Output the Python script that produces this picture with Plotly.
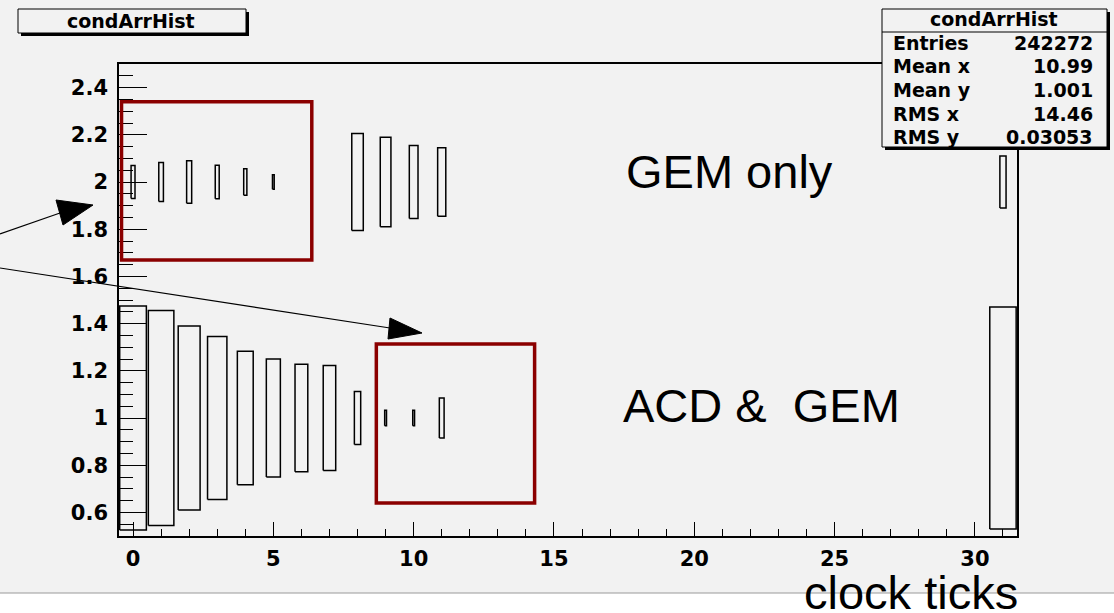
import plotly.graph_objects as go

# ---------------- data ----------------
x_range = [-0.5, 31.5]
y_range = [0.5, 2.5]

# row at y = 1 ("ACD & GEM")
lower_bins = [0, 1, 2, 3, 4, 5, 6, 7, 8, 9, 10, 11, 31]
lower_size = [0.95, 0.91, 0.78, 0.69, 0.565, 0.50, 0.455, 0.445, 0.225, 0.065, 0.065, 0.17, 0.94]
# row at y = 2 ("GEM only")
upper_bins = [0, 1, 2, 3, 4, 5, 8, 9, 10, 11, 31]
upper_size = [0.14, 0.165, 0.18, 0.141, 0.113, 0.062, 0.41, 0.38, 0.31, 0.29, 0.22]
row_y = [1.0, 2.0]

x_tickvals = [0, 5, 10, 15, 20, 25, 30]
y_tickvals = [0.6, 0.8, 1.0, 1.2, 1.4, 1.6, 1.8, 2.0, 2.2, 2.4]
y_ticktext = ["0.6", "0.8", "1", "1.2", "1.4", "1.6", "1.8", "2", "2.2", "2.4"]

hist_name = "condArrHist"
stats_labels = ["Entries", "Mean x", "Mean y", "RMS x", "RMS y"]
stats_values = ["242272", "10.99", "1.001", "14.46", "0.03053"]

# ---------------- layout geometry ----------------
W, H = 1114, 613
L, R, T, B = 119, 97, 64, 77
PW, PH = W - L - R, H - T - B
BG = "#f2f2f2"
DARKRED = "#8b0000"


def fx(px):
    return (px - L) / PW


def fy(py):
    return (H - B - py) / PH


def box_path(bins, sizes, yc):
    xs, ys = [], []
    for b, s in zip(bins, sizes):
        h = s / 2.0
        xs += [b - h, b + h, b + h, b - h, b - h, None]
        ys += [yc - h, yc - h, yc + h, yc + h, yc - h, None]
    return xs, ys


fig = go.Figure()
for bins, sizes, yc in [(lower_bins, lower_size, row_y[0]), (upper_bins, upper_size, row_y[1])]:
    xs, ys = box_path(bins, sizes, yc)
    fig.add_trace(go.Scatter(x=xs, y=ys, mode="lines",
                             line=dict(color="black", width=1.5),
                             hoverinfo="skip", showlegend=False))

tickfont = dict(family="DejaVu Sans", size=21, color="black", weight="bold")

fig.update_layout(
    width=W, height=H,
    margin=dict(l=L, r=R, t=T, b=B, pad=0),
    paper_bgcolor=BG, plot_bgcolor=BG,
    showlegend=False,
    xaxis=dict(range=x_range, showgrid=False, zeroline=False,
               showline=True, mirror=True, linecolor="black", linewidth=1.5,
               ticks="inside", ticklen=14, tickwidth=1, tickcolor="black",
               tickvals=x_tickvals, ticktext=[str(v) for v in x_tickvals],
               tickfont=tickfont, ticklabelstandoff=3,
               minor=dict(dtick=1, tick0=0, ticks="inside", ticklen=7,
                          tickwidth=1, tickcolor="black", showgrid=False)),
    yaxis=dict(range=y_range, showgrid=False, zeroline=False,
               showline=True, mirror=True, linecolor="black", linewidth=1.5,
               ticks="inside", ticklen=28, tickwidth=1, tickcolor="black",
               tickvals=y_tickvals, ticktext=y_ticktext,
               tickfont=tickfont, ticklabelstandoff=5,
               minor=dict(dtick=0.05, tick0=0, ticks="inside", ticklen=14,
                          tickwidth=1, tickcolor="black", showgrid=False)),
)

shapes = []
# white strip at the bottom + separator line
shapes.append(dict(type="rect", xref="paper", yref="paper", x0=fx(0), x1=fx(W),
                   y0=fy(W), y1=fy(593), fillcolor="white", line=dict(width=0), layer="below"))
shapes.append(dict(type="line", xref="paper", yref="paper", x0=fx(0), x1=fx(W),
                   y0=fy(593), y1=fy(593), line=dict(color="#9a9a9a", width=1)))

# red highlight frames
shapes.append(dict(type="rect", xref="x", yref="y", x0=-0.41, x1=6.37, y0=1.669, y1=2.34,
                   line=dict(color=DARKRED, width=3.5)))
shapes.append(dict(type="rect", xref="x", yref="y", x0=8.67, x1=14.31, y0=0.64, y1=1.314,
                   line=dict(color=DARKRED, width=3.5)))


# arrows (line + filled head)
def arrow(p0, base, tip, c1, c2):
    shapes.append(dict(type="line", xref="paper", yref="paper",
                       x0=fx(p0[0]), y0=fy(p0[1]), x1=fx(base[0]), y1=fy(base[1]),
                       line=dict(color="black", width=1.2)))
    path = "M {} {} L {} {} L {} {} Z".format(fx(c1[0]), fy(c1[1]), fx(tip[0]), fy(tip[1]),
                                             fx(c2[0]), fy(c2[1]))
    shapes.append(dict(type="path", xref="paper", yref="paper", path=path,
                       fillcolor="black", line=dict(color="black", width=1)))


arrow((0, 234), (60, 213), (93, 205), (56, 200), (63, 225))
arrow((0, 268), (390, 328), (422, 333), (390, 318), (388, 339))


# ROOT-style boxes with shadow
def root_box(x0, y0, x1, y1):
    shapes.append(dict(type="rect", xref="paper", yref="paper",
                       x0=fx(x0 + 3), x1=fx(x1 + 3), y0=fy(y1 + 3), y1=fy(y0 + 3),
                       fillcolor="black", line=dict(width=0)))
    shapes.append(dict(type="rect", xref="paper", yref="paper",
                       x0=fx(x0), x1=fx(x1), y0=fy(y1), y1=fy(y0),
                       fillcolor=BG, line=dict(color="black", width=1)))


root_box(18, 9, 246, 33)
root_box(882, 9, 1107, 147)
shapes.append(dict(type="line", xref="paper", yref="paper", x0=fx(882), x1=fx(1107),
                   y0=fy(32), y1=fy(32), line=dict(color="black", width=1)))

fig.update_layout(shapes=shapes)

ann = []
boxfont = dict(family="DejaVu Sans", size=19, color="black", weight="bold")
ann.append(dict(text=hist_name, x=fx(131), y=fy(21), xref="paper", yref="paper",
                showarrow=False, xanchor="center", yanchor="middle", font=boxfont))
ann.append(dict(text=hist_name, x=fx(994), y=fy(19), xref="paper", yref="paper",
                showarrow=False, xanchor="center", yanchor="middle", font=boxfont))
row_px = [43, 66, 90, 114, 137]
for lab, val, py in zip(stats_labels, stats_values, row_px):
    ann.append(dict(text=lab, x=fx(891), y=fy(py), xref="paper", yref="paper",
                    showarrow=False, xanchor="left", yanchor="middle", font=boxfont))
    ann.append(dict(text=val, x=fx(1095), y=fy(py), xref="paper", yref="paper",
                    showarrow=False, xanchor="right", yanchor="middle", font=boxfont))

bigfont = dict(family="Liberation Sans", size=47, color="black")
ann.append(dict(text="GEM only", x=fx(729), y=fy(172), xref="paper", yref="paper",
                showarrow=False, xanchor="center", yanchor="middle", font=bigfont))
ann.append(dict(text="ACD &\u00a0\u00a0GEM", x=fx(761), y=fy(405), xref="paper", yref="paper",
                showarrow=False, xanchor="center", yanchor="middle", font=bigfont))
ann.append(dict(text="clock ticks", x=fx(911), y=fy(592), xref="paper", yref="paper",
                showarrow=False, xanchor="center", yanchor="middle", font=bigfont))
fig.update_layout(annotations=ann)

fig.write_html("out.html")
